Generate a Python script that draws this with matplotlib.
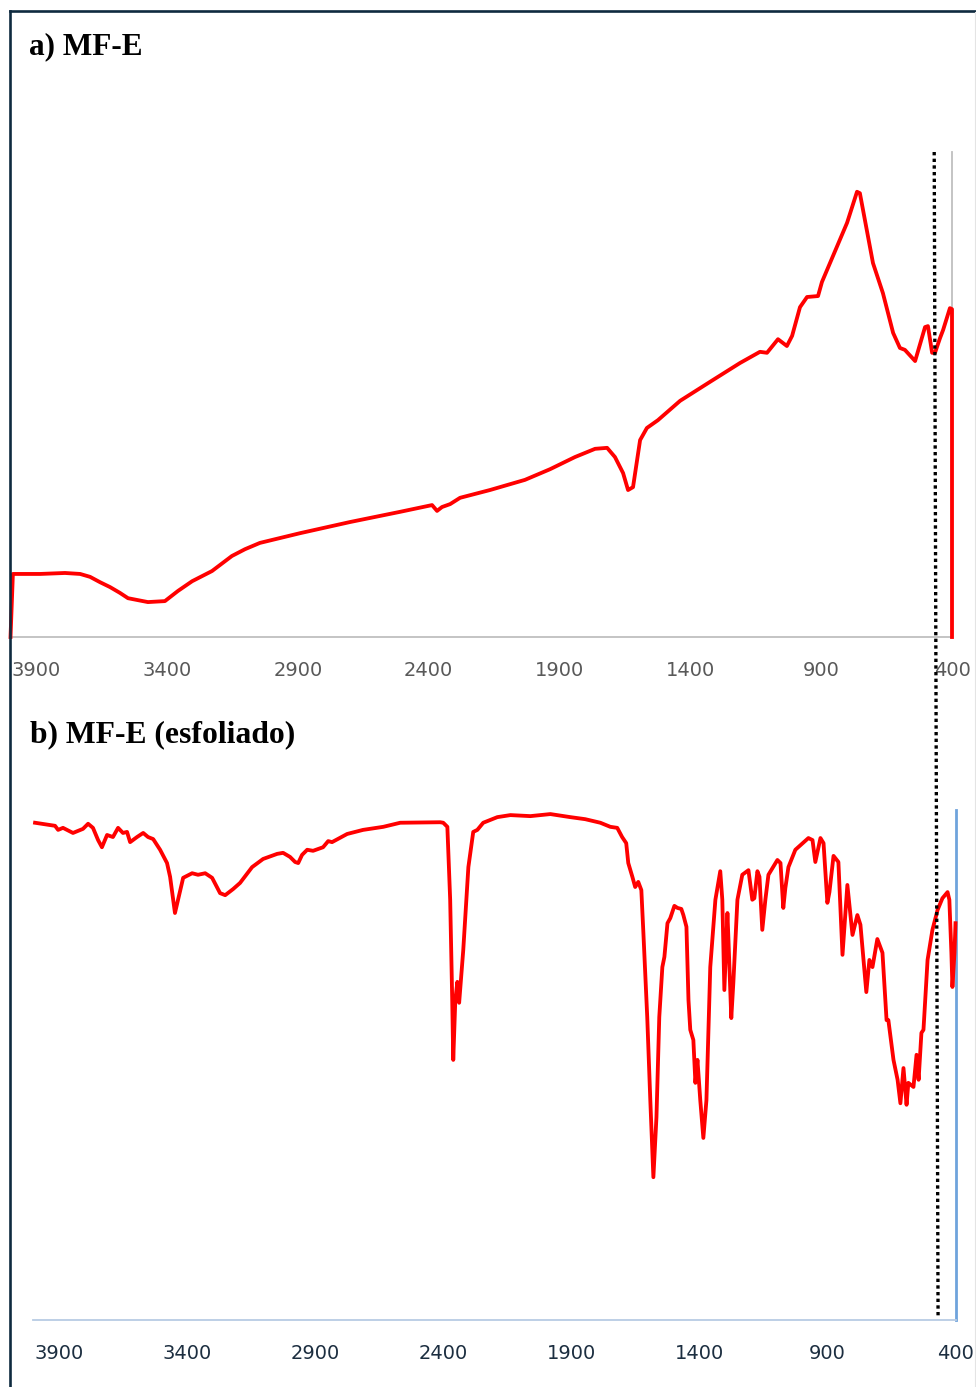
"""
Espectros FTIR de MF-E: amostra original e esfoliada
"""

import matplotlib
matplotlib.use("Agg")
import matplotlib.pyplot as plt
from matplotlib.lines import Line2D
from matplotlib.patches import ConnectionPatch

# a) MF-E  (numero de onda em cm-1, transmitancia relativa)
wn_a = [3998, 3989, 3885, 3790, 3732, 3694, 3656, 3618, 3580, 3549, 3511, 3473,
        3408, 3358, 3304, 3228, 3152, 3102, 3045, 2892, 2701, 2510, 2387, 2368,
        2349, 2318, 2280, 2166, 2032, 1936, 1841, 1764, 1718, 1688, 1657, 1638,
        1619, 1592, 1566, 1524, 1439, 1325, 1210, 1134, 1107, 1065, 1031, 1011,
        981, 954, 912, 897, 801, 763, 752, 702, 664, 625, 599, 580, 541, 503,
        492, 476, 465, 446, 434, 408, 400, 400]
t_a = [0.0, 13.0, 13.0, 13.2, 13.0, 12.4, 11.3, 10.3, 9.1, 8.0, 7.6, 7.2,
       7.4, 9.5, 11.5, 13.6, 16.7, 18.1, 19.4, 21.4, 23.7, 25.8, 27.2, 26.0,
       26.8, 27.4, 28.7, 30.3, 32.4, 34.6, 37.1, 38.8, 39.0, 37.1, 33.8, 30.3,
       30.9, 40.6, 43.1, 44.7, 48.7, 52.6, 56.5, 58.8, 58.6, 61.4, 60.0, 62.1,
       68.0, 70.1, 70.3, 73.2, 85.4, 91.8, 91.5, 77.1, 70.9, 62.7, 59.6, 59.2,
       56.9, 63.9, 64.1, 58.6, 58.6, 61.6, 63.3, 67.8, 67.6, 0.0]

# b) MF-E (esfoliado)
wn_b = [3992, 3914, 3902, 3883, 3844, 3805, 3785, 3766, 3746, 3731, 3711, 3688,
        3668, 3649, 3633, 3621, 3594, 3570, 3551, 3531, 3504, 3477, 3465, 3446,
        3434, 3414, 3379, 3356, 3328, 3301, 3270, 3250, 3219, 3192, 3145, 3102,
        3047, 3024, 2997, 2977, 2965, 2950, 2930, 2907, 2868, 2848, 2833, 2774,
        2712, 2633, 2567, 2411, 2399, 2383, 2372, 2364, 2360, 2352, 2344, 2337,
        2321, 2301, 2282, 2266, 2243, 2188, 2137, 2059, 1981, 1903, 1845, 1786,
        1747, 1720, 1701, 1685, 1677, 1661, 1650, 1638, 1626, 1618, 1603, 1591,
        1579, 1567, 1556, 1544, 1536, 1524, 1513, 1497, 1485, 1470, 1462, 1450,
        1442, 1435, 1423, 1415, 1407, 1396, 1384, 1372, 1357, 1337, 1318, 1310,
        1302, 1290, 1286, 1275, 1267, 1251, 1232, 1208, 1193, 1185, 1173, 1165,
        1154, 1142, 1130, 1095, 1083, 1072, 1064, 1052, 1025, 974, 958, 947,
        927, 915, 900, 892, 876, 857, 841, 822, 802, 783, 771, 748, 736, 724,
        705, 685, 669, 662, 642, 626, 615, 603, 591, 584, 564, 552, 544, 533,
        525, 509, 490, 470, 451, 431, 424, 416, 412, 404, 400]
t_b = [97.5, 96.9, 96.1, 96.5, 95.5, 96.3, 97.3, 96.5, 94.1, 92.7, 95.1, 94.7,
       96.5, 95.5, 95.7, 93.7, 94.7, 95.5, 94.7, 94.3, 92.2, 89.6, 86.9, 79.8,
       82.4, 86.7, 87.6, 87.3, 87.6, 86.7, 83.7, 83.3, 84.5, 85.7, 88.8, 90.4,
       91.4, 91.6, 90.8, 89.8, 89.6, 91.2, 92.2, 92.0, 92.7, 93.9, 93.7, 95.3,
       96.1, 96.7, 97.5, 97.6, 97.5, 96.7, 82.4, 62.7, 51.0, 62.7, 66.3, 62.2,
       72.5, 88.8, 95.7, 96.1, 97.5, 98.6, 99.0, 98.8, 99.2, 98.6, 98.2, 97.5,
       96.7, 96.5, 94.7, 93.5, 89.6, 86.9, 84.9, 85.9, 84.3, 75.9, 59.4, 43.1,
       28.0, 39.8, 59.4, 69.2, 71.2, 77.8, 78.8, 81.2, 80.8, 80.6, 79.4, 77.1,
       62.7, 56.9, 54.9, 46.5, 51.0, 43.1, 35.7, 43.1, 69.2, 82.4, 88.0, 82.4,
       64.7, 79.8, 74.5, 59.2, 66.1, 82.4, 87.3, 88.2, 82.4, 82.7, 88.0, 86.9,
       76.5, 82.4, 87.3, 90.2, 89.6, 80.8, 84.7, 88.8, 92.2, 94.5, 94.1, 89.8,
       94.5, 93.5, 81.8, 83.9, 91.0, 89.8, 71.6, 85.3, 75.5, 79.4, 77.5, 64.3,
       70.6, 69.2, 74.7, 72.0, 58.8, 58.8, 51.0, 47.1, 42.5, 49.4, 42.2, 46.5,
       45.7, 52.0, 47.1, 56.3, 56.9, 70.6, 76.5, 80.4, 82.7, 83.9, 82.4, 72.0,
       65.3, 72.0, 77.8]

ticks = [3900, 3400, 2900, 2400, 1900, 1400, 900, 400]
marker_wn = 468  # linha de referencia pontilhada

W, H = 976, 1387
fig = plt.figure(figsize=(W / 100, H / 100), dpi=100)


def px_axes(left, top, right, bottom):
    return fig.add_axes([left / W, 1 - bottom / H, (right - left) / W, (bottom - top) / H])


ax1 = px_axes(10, 152, 952, 637)
ax2 = px_axes(33, 810, 955.5, 1320)

ax1.plot(wn_a, t_a, color='red', lw=2.75, clip_on=False, solid_joinstyle='round', zorder=3)
ax2.plot(wn_b, t_b, color='red', lw=2.75, clip_on=False, solid_joinstyle='round', zorder=3)

for ax in (ax1, ax2):
    ax.set_xlim(4000, 400)
    ax.set_ylim(0, 100)
    ax.set_xticks(ticks)
    ax.set_xticklabels([str(t) for t in ticks])
    ax.set_yticks([])
    ax.spines['left'].set_visible(False)
    ax.spines['top'].set_visible(False)
    ax.tick_params(axis='x', length=0, pad=17, labelsize=14)

for s in ('bottom', 'right'):
    ax1.spines[s].set_color('#bfbfbf')
    ax1.spines[s].set_linewidth(1.3)
ax1.tick_params(axis='x', labelcolor='#595959')

ax2.spines['bottom'].set_color('#b8cce4')
ax2.spines['bottom'].set_linewidth(1.3)
ax2.spines['right'].set_color('#6fa3dc')
ax2.spines['right'].set_linewidth(2)
ax2.tick_params(axis='x', labelcolor='#1c2e40')

# linha pontilhada comum aos dois espectros
con = ConnectionPatch(xyA=(marker_wn, 100), coordsA=ax1.transData,
                      xyB=(marker_wn, 0.3), coordsB=ax2.transData,
                      color='black', lw=2.4, linestyle=(0, (1, 1)), capstyle='butt')
fig.add_artist(con)

# moldura
fig.add_artist(Line2D([9.5 / W, 9.5 / W], [0, 1 - 11 / H], color='#0f2a3f', lw=1.9))
fig.add_artist(Line2D([9.5 / W, 1], [1 - 11 / H, 1 - 11 / H], color='#0f2a3f', lw=1.9))
fig.add_artist(Line2D([975 / W, 975 / W], [0, 1 - 12 / H], color='#e4e4e4', lw=0.8))

fig.text(29 / W, 1 - 47 / H, 'a) MF-E', fontsize=22.5, fontweight='bold',
         family='Liberation Serif', va='center', ha='left')
fig.text(30 / W, 1 - 735 / H, 'b) MF-E (esfoliado)', fontsize=22.8, fontweight='bold',
         family='Liberation Serif', va='center', ha='left')

fig.savefig('out.png', dpi=100)
